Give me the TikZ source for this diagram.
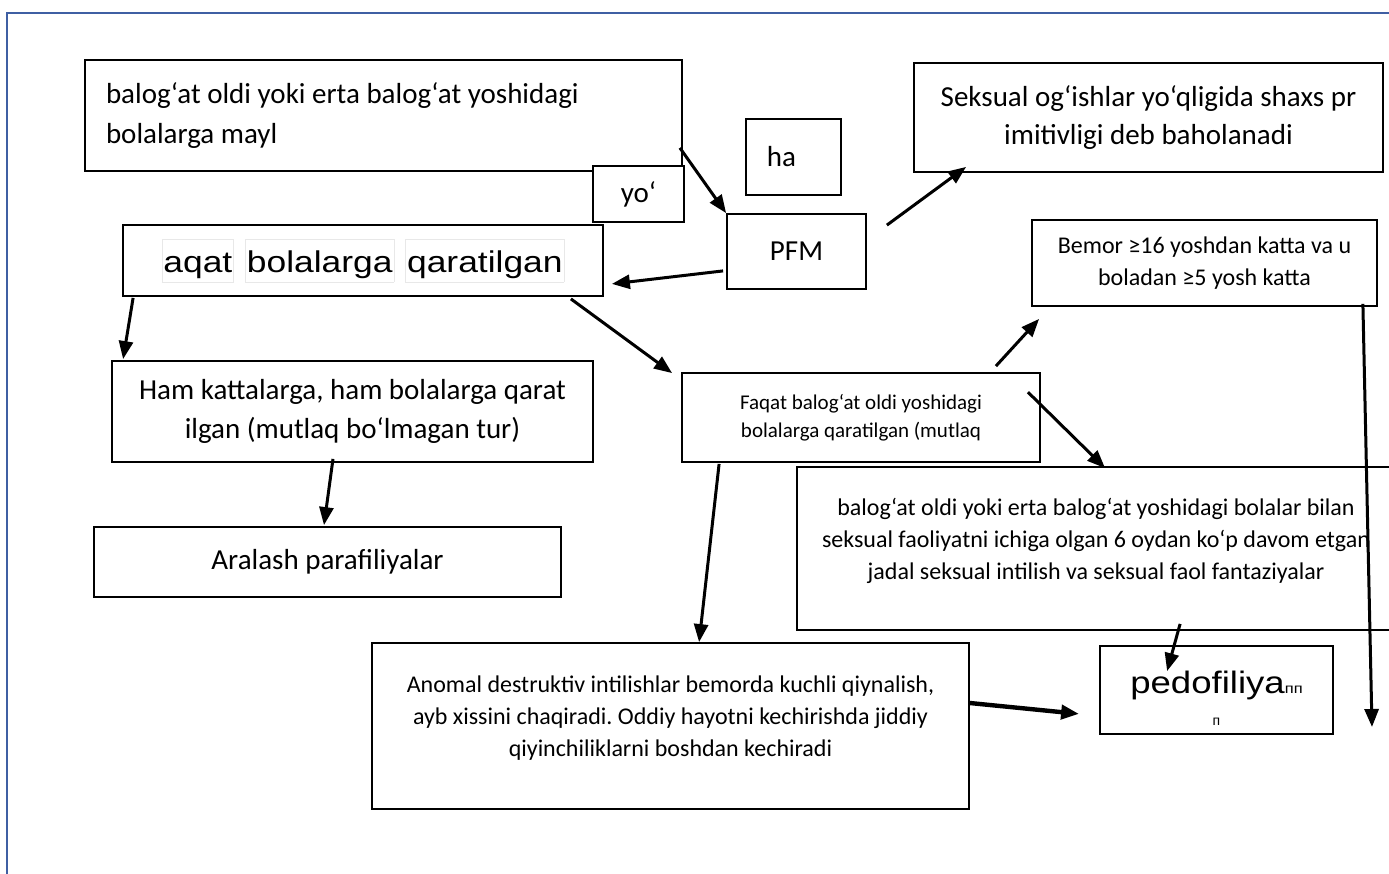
\documentclass[tikz,border=0pt]{standalone}
\usepackage{fontspec}
\setmainfont{Carlito}
\newfontfamily\arialfont{Liberation Sans}
\usepackage{graphicx}
\usepackage{xcolor}
\usetikzlibrary{arrows.meta,calc}
\definecolor{frameblue}{HTML}{3F5FA3}
\frenchspacing

\newcommand{\wordbox}[1]{{\setlength{\fboxsep}{0.5pt}\setlength{\fboxrule}{0.4pt}\fcolorbox{gray!18}{white}{\rule[-4pt]{0pt}{20pt}\scalebox{1.18}[1]{#1}}}}

\begin{document}
\begin{tikzpicture}[
  x=0.5pt, y=-0.5pt,
  box/.style={draw, line width=0.9pt, align=center, inner sep=0pt},
  big/.style={font=\fontsize{14.5pt}{19.5pt}\selectfont},
  mid/.style={font=\fontsize{12pt}{16pt}\selectfont},
  arrow/.style={-{Triangle[length=9pt,width=7pt]}, line width=1.5pt}
]
\useasboundingbox (0,0) rectangle (1389,874);
\draw[frameblue, line width=1pt] (7,874) -- (7,12.5) -- (1389,12.5);

% top row
\node[box, minimum width=298.5pt, minimum height=55.5pt, text width=277.5pt, align=flush left,
  font=\fontsize{14.5pt}{20pt}\selectfont] (mayl) at (383.5,115.5)
  {balog‘at oldi yoki erta balog‘at yoshidagi\\bolalarga mayl\\[-4pt]};
\node[box, big, fill=white, minimum width=45.5pt, minimum height=28pt] (yo) at (638.5,194) {yo‘};
\node[box, big, minimum width=47.5pt, minimum height=38pt] (ha) at (793.5,157) {ha\hspace{12pt}};
\node[box, big, minimum width=69.5pt, minimum height=37.5pt] (pfm) at (796.5,251.5) {PFM};
\node[box, minimum width=234.5pt, minimum height=54.5pt, font=\fontsize{14.5pt}{19pt}\selectfont]
  (seks) at (1148.5,117.5) {Seksual og‘ishlar yo‘qligida shaxs pr\\imitivligi deb baholanadi};

% middle row
\node[box, minimum width=240pt, minimum height=35.5pt, font=\arialfont\fontsize{15pt}{18pt}\selectfont]
  (aqat) at (363,260.5)
  {\wordbox{aqat}\hspace{5.5pt}\wordbox{bolalarga}\hspace{5.5pt}\wordbox{qaratilgan}};
\node[box, mid, minimum width=172.5pt, minimum height=43pt] (bemor) at (1204.5,263)
  {Bemor ≥16 yoshdan katta va u\\boladan ≥5 yosh katta};
\node[box, big, minimum width=240.5pt, minimum height=50.5pt] (ham) at (352.5,411.5)
  {Ham kattalarga, ham bolalarga qarat\\ilgan (mutlaq bo‘lmagan tur)};
\node[box, minimum width=179pt, minimum height=44.5pt, font=\fontsize{10.5pt}{14pt}\selectfont]
  (faqat) at (861,417.5) {Faqat balog‘at oldi yoshidagi\\bolalarga qaratilgan (mutlaq};

% bottom row
\node[box, big, minimum width=233.5pt, minimum height=35pt] (aral) at (327.5,562) {Aralash parafiliyalar};
\node[box, mid, minimum width=299pt, minimum height=81.5pt] (belgi) at (1096,548.5)
  {balog‘at oldi yoki erta balog‘at yoshidagi bolalar bilan\\seksual faoliyatni ichiga olgan 6 oydan ko‘p davom etgan\\jadal seksual intilish va seksual faol fantaziyalar\\[-6pt]};
\node[box, mid, minimum width=298.5pt, minimum height=83pt] (anom) at (670.5,726)
  {Anomal destruktiv intilishlar bemorda kuchli qiynalish,\\ayb xissini chaqiradi. Oddiy hayotni kechirishda jiddiy\\qiyinchiliklarni boshdan kechiradi\\[-6pt]};
\node[box, minimum width=116.5pt, minimum height=44pt, font=\arialfont\fontsize{15.5pt}{16pt}\selectfont]
  (pedo) at (1216.5,690)
  {\rule{0pt}{19.5pt}\scalebox{1.18}[1]{pedofiliya{\fontsize{7pt}{8pt}\selectfont пп}}\\{\fontsize{7pt}{8pt}\selectfont п}};

\coordinate (bemorend) at (1372,727);

% arrows
\draw[arrow] ($(mayl.south east)+(-3,-24)$) -- (pfm.north west);
\draw[arrow] ($(pfm.north east)+(20,12)$) -- ($(seks.south west)+(53,-6)$);
\draw[arrow] ($(pfm.south west)+(-3,-19)$) -- ($(aqat.south east)+(8,-13)$);
\draw[arrow] ($(aqat.south west)+(11,1)$) -- ($(ham.north west)+(12,-1)$);
\draw[arrow] ($(ham.south)+(-19.5,-4)$) -- ($(aral.north)+(-3.5,-1)$);
\draw[arrow] ($(aqat.south east)+(-33,2)$) -- ($(faqat.north west)+(-9,1)$);
\draw[arrow] ($(faqat.north east)+(-45,-6)$) -- ($(bemor.south west)+(8,12)$);
\draw[arrow] ($(faqat.north east)+(-13,20)$) -- ($(belgi.north west)+(309,2)$);
\draw[arrow] ($(faqat.south west)+(38,1)$) -- ($(anom.north west)+(328,0)$);
\draw[arrow, line width=2.2pt] ($(anom.east)+(0,-23)$) -- ($(pedo.south west)+(-20,-21)$);
\draw[arrow] ($(belgi.south west)+(384,-7)$) -- ($(pedo.north west)+(68,26)$);
\draw[arrow] ($(bemor.south east)+(-15,-3)$) -- (bemorend);

\end{tikzpicture}
\end{document}
